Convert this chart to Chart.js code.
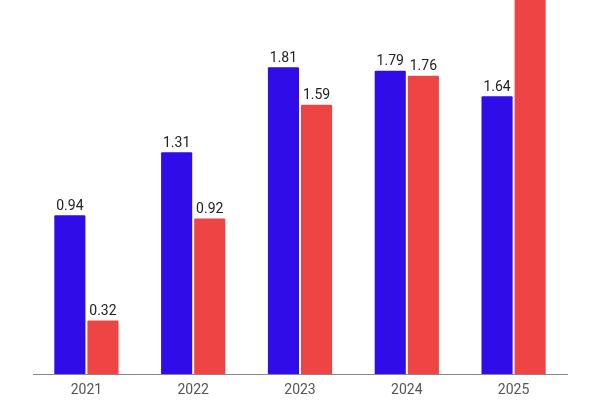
<!DOCTYPE html>
<html>
<head>
<meta charset="utf-8">
<script src="https://cdn.jsdelivr.net/npm/chart.js@4.4.1/dist/chart.umd.min.js"></script>
<style>
  html, body { margin: 0; padding: 0; background: #fff; }
  #wrap { width: 600px; height: 400px; }
</style>
</head>
<body>
<div id="wrap"><canvas id="myChart"></canvas></div>
<script>
const years = ['2021', '2022', '2023', '2024', '2025'];
const seriesA = [0.94, 1.31, 1.81, 1.79, 1.64];
const seriesB = [0.32, 0.92, 1.59, 1.76, 2.6]; // last one runs off the top

Chart.defaults.font.family = 'Roboto';

// value labels over the bars
const barLabels = {
  id: 'barLabels',
  afterDatasetsDraw(chart) {
    const c = chart.ctx;
    c.save();
    c.font = '14px Roboto';
    c.fillStyle = '#222';
    c.textAlign = 'center';
    c.textBaseline = 'bottom';
    chart.data.datasets.forEach((ds, i) => {
      chart.getDatasetMeta(i).data.forEach((bar, j) => {
        if (bar.y < 16) return;
        c.fillText(ds.data[j].toFixed(2), bar.x, bar.y - 1);
      });
    });
    c.restore();
  }
};

new Chart(document.getElementById('myChart'), {
  type: 'bar',
  data: {
    labels: years,
    datasets: [{
      data: seriesA,
      backgroundColor: '#300ce8',
      borderColor: '#fff',
      borderWidth: 1,
      borderRadius: 2,
      borderSkipped: 'bottom'
    }, {
      data: seriesB,
      backgroundColor: '#ef4444',
      borderColor: '#fff',
      borderWidth: 1,
      borderRadius: 2,
      borderSkipped: 'bottom'
    }]
  },
  options: {
    responsive: true,
    maintainAspectRatio: false,
    animation: false,
    datasets: { bar: { categoryPercentage: 0.62, barPercentage: 1.0 } },
    layout: { padding: { left: 33, right: 33, top: 0, bottom: 0 } },
    plugins: {
      legend: { display: false },
      tooltip: { enabled: false }
    },
    scales: {
      x: {
        grid: { display: false },
        border: { color: '#888', width: 1 },
        ticks: { color: '#555', font: { size: 14 }, padding: 0 },
        afterFit(axis) { axis.height = 26; }
      },
      y: {
        display: false,
        min: 0,
        max: 2.2
      }
    }
  },
  plugins: [barLabels]
});
</script>
</body>
</html>
